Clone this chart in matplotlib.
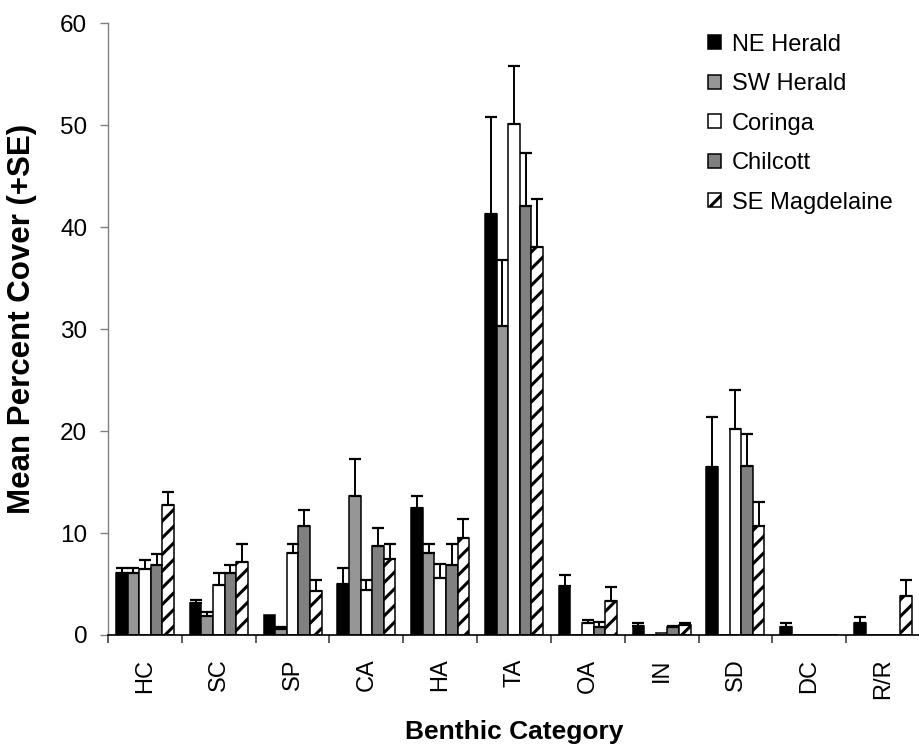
import numpy as np
import matplotlib
matplotlib.use("Agg")
import matplotlib.pyplot as plt

plt.rcParams['font.family'] = ['Liberation Sans', 'DejaVu Sans']
plt.rcParams['hatch.linewidth'] = 2.2

categories = ["HC", "SC", "SP", "CA", "HA", "TA", "OA", "IN", "SD", "DC", "R/R"]
sites = ["NE Herald", "SW Herald", "Coringa", "Chilcott", "SE Magdelaine"]

ne_herald = [6.1, 3.1, 2.0, 5.0, 12.5, 41.3, 4.8, 0.9, 16.5, 0.8, 1.15]
sw_herald = [6.1, 1.9, 0.6, 13.6, 8.0, 30.3, 0.0, 0.0, 0.0, 0.0, 0.0]
coringa = [6.5, 4.9, 8.0, 4.4, 5.6, 50.1, 1.15, 0.2, 20.2, 0.0, 0.0]
chilcott = [6.9, 6.1, 10.7, 8.7, 6.9, 42.1, 0.8, 0.8, 16.6, 0.0, 0.0]
se_magdelaine = [12.8, 7.2, 4.3, 7.5, 9.5, 38.1, 3.3, 1.0, 10.7, 0.0, 3.8]

ne_herald_se = [0.5, 0.3, 0.0, 1.6, 1.1, 9.5, 1.1, 0.25, 4.9, 0.35, 0.65]
sw_herald_se = [0.5, 0.35, 0.2, 3.7, 0.9, 6.5, 0.0, 0.0, 0.0, 0.0, 0.0]
coringa_se = [0.9, 1.2, 0.9, 1.0, 1.4, 5.7, 0.35, 0.0, 3.8, 0.0, 0.0]
chilcott_se = [1.0, 0.8, 1.6, 1.8, 2.0, 5.2, 0.5, 0.1, 3.1, 0.0, 0.0]
se_magdelaine_se = [1.2, 1.7, 1.1, 1.4, 1.85, 4.7, 1.45, 0.15, 2.3, 0.0, 1.6]

means = [ne_herald, sw_herald, coringa, chilcott, se_magdelaine]
errors = [ne_herald_se, sw_herald_se, coringa_se, chilcott_se, se_magdelaine_se]
styles = [
    dict(color="#000000", hatch=None),
    dict(color="#969696", hatch=None),
    dict(color="#ffffff", hatch=None),
    dict(color="#808080", hatch=None),
    dict(color="#ffffff", hatch="//"),
]

fig = plt.figure(figsize=(9.2, 7.45), dpi=100)
ax = fig.add_axes([0.1174, 0.1477, 0.8826, 0.8208])

x = np.arange(len(categories))
width = 0.157
handles = []
for i, (vals, errs, st) in enumerate(zip(means, errors, styles)):
    pos = x + (i - 2) * width
    bars = ax.bar(pos, vals, width, facecolor=st["color"], edgecolor="black",
                  linewidth=1.1, hatch=st["hatch"], zorder=2, label=sites[i])
    handles.append(bars)
    vals = np.asarray(vals)
    errs = np.asarray(errs)
    m = errs > 0
    ax.errorbar(pos[m], vals[m], yerr=[np.zeros(m.sum()), errs[m]], fmt="none",
                ecolor="black", elinewidth=1.4, capsize=4.4, capthick=1.6,
                zorder=3)

ax.set_xlim(-0.5, len(categories) - 0.5)
ax.set_ylim(0, 60)
ax.set_yticks(np.arange(0, 61, 10))
ax.set_xticks(x)
ax.set_xticklabels(categories, rotation=90, fontsize=17)
ax.set_xticks(np.arange(-0.5, len(categories), 1.0), minor=True)
ax.tick_params(axis="x", which="major", length=0, pad=17)
ax.tick_params(axis="x", which="minor", length=6, width=1.2, color="#404040",
               direction="out")
ax.tick_params(axis="y", labelsize=17.5, length=6, width=1.0, color="#808080",
               pad=9, direction="out")

for side in ("top", "right"):
    ax.spines[side].set_visible(False)
ax.spines["left"].set_color("#808080")
ax.spines["left"].set_linewidth(1.0)
ax.spines["bottom"].set_color("#000000")
ax.spines["bottom"].set_linewidth(1.2)

ax.set_ylabel("Mean Percent Cover (+SE)", fontsize=22.5, fontweight="bold")
ax.yaxis.set_label_coords(-0.088, 0.516)
ax.set_xlabel("Benthic Category", fontsize=19, fontweight="bold", labelpad=15)

leg = fig.legend(handles=handles, labels=sites, loc="upper left",
                 bbox_to_anchor=(0.7515, 0.977), frameon=False, fontsize=17,
                 handlelength=0.55, handleheight=0.55, handletextpad=0.47,
                 labelspacing=0.74, borderpad=0.2)

fig.savefig("out.png", dpi=100)
